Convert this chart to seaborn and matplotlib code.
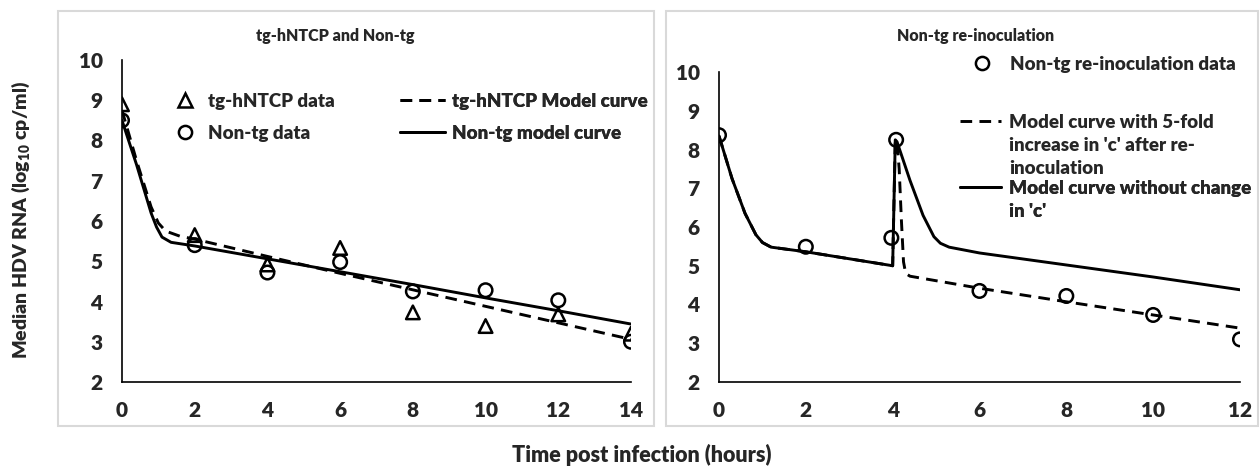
import numpy as np
import matplotlib
matplotlib.use("Agg")
import matplotlib.pyplot as plt
from matplotlib.lines import Line2D
from matplotlib.patches import Rectangle
import seaborn as sns

# ---- left panel: tg-hNTCP vs Non-tg ----
t_data = [0, 2, 4, 6, 8, 10, 12, 14]
tg_data = [8.9, 5.65, 4.92, 5.33, 3.73, 3.39, 3.68, 3.2]
nontg_data = [8.5, 5.4, 4.72, 4.98, 4.25, 4.28, 4.03, 3.0]

t_tg_model = [0, 0.4, 0.8, 1.0, 1.2, 1.6, 2, 4, 6, 8, 10, 12, 14]
tg_model = [8.75, 7.5, 6.35, 5.95, 5.75, 5.62, 5.55, 5.12, 4.7, 4.29, 3.88, 3.47, 3.06]
t_nontg_model = [0, 0.4, 0.8, 0.95, 1.1, 1.35, 2, 4, 6, 8, 10, 12, 14]
nontg_model = [8.5, 7.4, 6.2, 5.85, 5.6, 5.47, 5.38, 5.06, 4.74, 4.42, 4.09, 3.77, 3.44]

# ---- right panel: Non-tg re-inoculation ----
t_reinoc = [0, 2, 3.97, 4.08, 6, 8, 10, 12]
reinoc_data = [8.37, 5.49, 5.72, 8.25, 4.35, 4.22, 3.73, 3.1]

t_nochange = [0, 0.3, 0.6, 0.85, 1.0, 1.2, 2, 3, 4.0, 4.06, 4.1, 4.4, 4.7, 4.95,
              5.1, 5.3, 6, 8, 10, 12]
nochange = [8.35, 7.25, 6.35, 5.8, 5.6, 5.48, 5.36, 5.18, 5.0, 8.25, 8.2, 7.2, 6.3,
            5.75, 5.58, 5.48, 5.33, 5.02, 4.71, 4.38]
t_fivefold = [0, 0.3, 0.6, 0.85, 1.0, 1.2, 2, 3, 4.0, 4.06, 4.1, 4.15, 4.2, 4.25,
              4.3, 4.4, 6, 8, 10, 12]
fivefold = [8.35, 7.25, 6.35, 5.8, 5.6, 5.48, 5.36, 5.18, 5.0, 8.25, 8.2, 7.5, 6.2,
            5.1, 4.8, 4.73, 4.42, 4.07, 3.73, 3.39]

WT = "heavy"  # Lato ExtraBold reads like the reference's bold face

sns.set_style("white")
plt.rcParams["font.family"] = ["Lato", "DejaVu Sans"]
plt.rcParams["font.weight"] = WT
plt.rcParams["mathtext.fontset"] = "custom"
plt.rcParams["mathtext.rm"] = "Lato:heavy"
plt.rcParams["mathtext.bf"] = "Lato:heavy"

fig = plt.figure(figsize=(12.6, 4.66), dpi=100)
W, H = 1260, 466

def px_axes(x0, y0, x1, y1):
    return fig.add_axes([x0 / W, 1 - y1 / H, (x1 - x0) / W, (y1 - y0) / H])

# panel frames
for (x0, y0, x1, y1) in [(58, 11, 654, 426), (666, 11, 1258, 426)]:
    fig.patches.append(Rectangle((x0 / W, 1 - y1 / H), (x1 - x0) / W, (y1 - y0) / H,
                                 transform=fig.transFigure, fill=False,
                                 edgecolor="#d9d9d9", linewidth=1.5))

ax1 = px_axes(122, 60, 631, 382)
ax2 = px_axes(719, 72, 1240, 382)

lw = 2.1
dash = (4, 2.5)
mk = dict(s=95, facecolor="none", edgecolor="black", linewidth=1.8, zorder=4)

sns.lineplot(x=t_tg_model, y=tg_model, ax=ax1, color="black", lw=lw,
             linestyle=(0, dash), sort=False)
sns.lineplot(x=t_nontg_model, y=nontg_model, ax=ax1, color="black", lw=lw, sort=False)
sns.scatterplot(x=t_data, y=tg_data, ax=ax1, marker="^", **mk)
sns.scatterplot(x=t_data, y=nontg_data, ax=ax1, marker="o", **mk)

sns.lineplot(x=t_fivefold, y=fivefold, ax=ax2, color="black", lw=lw,
             linestyle=(0, dash), sort=False)
sns.lineplot(x=t_nochange, y=nochange, ax=ax2, color="black", lw=lw, sort=False)
sns.scatterplot(x=t_reinoc, y=reinoc_data, ax=ax2, marker="o", **mk)

for ax, xmax in [(ax1, 14), (ax2, 12)]:
    ax.set_xlim(0, xmax)
    ax.set_ylim(2, 10)
    ax.set_xticks(range(0, xmax + 1, 2))
    ax.set_yticks(range(2, 11))
    ax.tick_params(axis="both", length=0, labelsize=15)
    ax.tick_params(axis="x", pad=14)
    ax.tick_params(axis="y", pad=14)
    plt.setp(ax.get_xticklabels() + ax.get_yticklabels(), fontweight=WT)
    for s in ["top", "right"]:
        ax.spines[s].set_visible(False)
    for s in ["left", "bottom"]:
        ax.spines[s].set_color("black")
        ax.spines[s].set_linewidth(1.2)
    ax.set_xlabel("")
    ax.set_ylabel("")
    ax.patch.set_alpha(0)

fig.text(335 / W, 1 - 36 / H, "tg-hNTCP and Non-tg", ha="center", va="center",
         fontsize=11.5, fontweight=WT)
fig.text(976 / W, 1 - 36 / H, "Non-tg re-inoculation", ha="center", va="center",
         fontsize=11.5, fontweight=WT)
fig.text(21 / W, 1 - 220 / H, "Median HDV RNA (log$_{10}$ cp/ml)", rotation=90,
         ha="center", va="center", fontsize=14, fontweight=WT)
fig.text(642 / W, 1 - 455 / H, "Time post infection (hours)", ha="center",
         va="center", fontsize=15.5, fontweight=WT)

def h_marker(m):
    return Line2D([], [], ls="none", marker=m, mfc="none", mec="black", mew=1.8, ms=9.5)

def h_line(ls):
    return Line2D([], [], color="black", lw=lw, linestyle=ls)

blank = Line2D([], [], color="none")
fs = 13.5

def place(ax, handles, labels, x, y, hl, pad, spacing):
    leg = ax.legend(handles=handles, labels=labels, bbox_to_anchor=(x / W, 1 - y / H),
                    bbox_transform=fig.transFigure, loc="upper left", frameon=False,
                    borderaxespad=0, borderpad=0, handlelength=hl, handletextpad=pad,
                    labelspacing=spacing, prop={"weight": WT, "size": fs})
    ax.add_artist(leg)
    return leg

place(ax1, [h_marker("^"), h_marker("o")], ["tg-hNTCP data", "Non-tg data"],
      174, 93, 1.2, 0.6, 0.8)
place(ax1, [h_line((0, dash)), h_line("-")], ["tg-hNTCP Model curve", "Non-tg model curve"],
      400, 93, 2.4, 0.4, 0.8)

place(ax2, [h_marker("o")], ["Non-tg re-inoculation data"], 971, 56, 1.2, 0.9, 0.1)
place(ax2, [h_line((0, dash)), blank, blank],
      ["Model curve with 5-fold", "increase in 'c' after re-", "inoculation"],
      960, 114, 2.2, 0.4, 0.33)
place(ax2, [h_line("-"), blank], ["Model curve without change", "in 'c'"],
      960, 180, 2.2, 0.4, 0.33)

fig.savefig("out.png", dpi=100)
